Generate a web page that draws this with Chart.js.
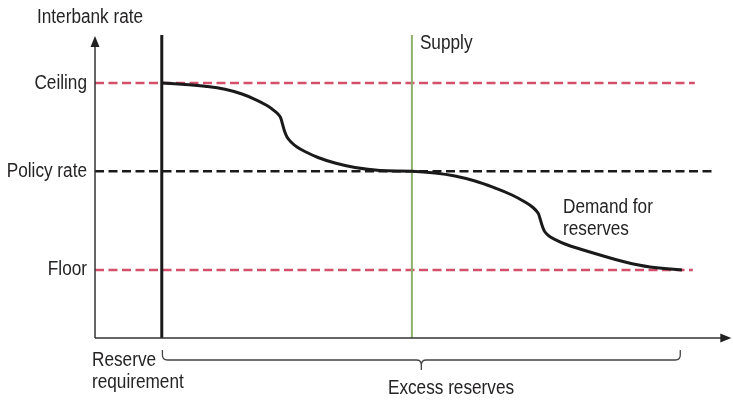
<!DOCTYPE html>
<html>
<head>
<meta charset="utf-8">
<script src="https://cdn.jsdelivr.net/npm/chart.js@4"></script>
<style>
  html, body { margin: 0; padding: 0; background: #fff; }
  #wrap { width: 733px; height: 403px; }
</style>
</head>
<body>
<div id="wrap"><canvas id="reservesChart" width="733" height="403"></canvas></div>
<script>
// Chart data (schematic units: x 0-100 reserves, y 0-100 rate)
const levelNames = ['Ceiling', 'Policy rate', 'Floor'];
const levelValues = [85, 55.6, 22.7];
const levelEnds = [95.2, 97.9, 94.9];

const reserveRequirement = 10.6;
const supplyLevel = 50.3;

const demandX = [10.63, 14.29, 17.46, 20.63, 23.33, 25.56, 27.30, 28.57, 29.37, 29.76,
                 30.08, 30.48, 31.11, 32.06, 33.33, 35.40, 38.10, 41.27, 45.24, 50.32,
                 53.97, 57.14, 60.32, 63.49, 66.19, 68.25, 69.52, 70.32, 70.71, 71.03,
                 71.43, 72.06, 73.02, 74.60, 76.98, 80.16, 84.13, 88.10, 93.17];
const demandY = [85.0, 84.5, 83.9, 82.9, 81.33, 79.4, 77.47, 75.57, 73.8, 71.33,
                 69.0, 67.0, 65.33, 63.67, 62.17, 60.17, 58.33, 56.83, 55.83, 55.6,
                 55.0, 54.0, 52.33, 50.0, 47.67, 45.33, 43.5, 41.67, 39.33, 37.17,
                 35.33, 34.0, 32.83, 31.33, 29.67, 27.67, 25.33, 23.67, 22.67];

const excessStart = 10.7;
const excessEnd = 92.9;

const FONT = "20px 'Liberation Sans', Arial, sans-serif";
const SQUEEZE = 0.86;
const TEXT = '#252323';
const RED = '#d4506a';

function hLine(y, end) {
    return [{ x: 0, y: y }, { x: end, y: y }];
}

// condensed-looking text
function label(ctx, text, x, y, align, base) {
    ctx.save();
    ctx.translate(x, y);
    ctx.scale(SQUEEZE, 1);
    ctx.textAlign = align;
    ctx.textBaseline = base;
    ctx.fillText(text, 0, 0);
    ctx.restore();
}

// Axes, arrows, brace and labels
const diagramPlugin = {
    id: 'diagram',
    afterDatasetsDraw(chart) {
        const ctx = chart.ctx;
        const xs = chart.scales.x;
        const ys = chart.scales.y;
        const x0 = xs.getPixelForValue(0);
        const y0 = ys.getPixelForValue(0);

        ctx.save();
        ctx.strokeStyle = '#333';
        ctx.fillStyle = '#222';
        ctx.lineWidth = 1.5;

        // y axis
        const yTip = ys.getPixelForValue(100.7);
        ctx.beginPath();
        ctx.moveTo(x0, y0);
        ctx.lineTo(x0, yTip + 6);
        ctx.stroke();
        ctx.beginPath();
        ctx.moveTo(x0, yTip);
        ctx.lineTo(x0 - 4.5, yTip + 11);
        ctx.lineTo(x0 + 4.5, yTip + 11);
        ctx.closePath();
        ctx.fill();

        // x axis
        const xTip = xs.getPixelForValue(101);
        ctx.beginPath();
        ctx.moveTo(x0, y0);
        ctx.lineTo(xTip - 6, y0);
        ctx.stroke();
        ctx.beginPath();
        ctx.moveTo(xTip, y0);
        ctx.lineTo(xTip - 11, y0 - 4.5);
        ctx.lineTo(xTip - 11, y0 + 4.5);
        ctx.closePath();
        ctx.fill();

        // brace under excess reserves
        const bl = xs.getPixelForValue(excessStart);
        const br = xs.getPixelForValue(excessEnd);
        const bm = (bl + br) / 2;
        const bt = y0 + 12, bb = y0 + 22, bc = y0 + 32;
        ctx.lineWidth = 1.3;
        ctx.strokeStyle = '#444';
        ctx.beginPath();
        ctx.moveTo(bl, bt);
        ctx.lineTo(bl, bb - 5);
        ctx.quadraticCurveTo(bl, bb, bl + 5, bb);
        ctx.lineTo(bm - 5, bb);
        ctx.quadraticCurveTo(bm, bb, bm, bb + 5);
        ctx.lineTo(bm, bc);
        ctx.moveTo(bm, bb + 5);
        ctx.quadraticCurveTo(bm, bb, bm + 5, bb);
        ctx.lineTo(br - 5, bb);
        ctx.quadraticCurveTo(br, bb, br, bb - 5);
        ctx.lineTo(br, bt);
        ctx.stroke();

        // text
        ctx.fillStyle = TEXT;
        ctx.font = FONT;
        levelNames.forEach((name, i) => {
            label(ctx, name, x0 - 8, ys.getPixelForValue(levelValues[i]), 'right', 'middle');
        });
        label(ctx, 'Interbank rate', 37, 23, 'left', 'alphabetic');
        label(ctx, 'Supply', xs.getPixelForValue(supplyLevel) + 8, 49, 'left', 'alphabetic');
        label(ctx, 'Demand for', 563, 213, 'left', 'alphabetic');
        label(ctx, 'reserves', 563, 235, 'left', 'alphabetic');
        label(ctx, 'Reserve', 92, 366, 'left', 'alphabetic');
        label(ctx, 'requirement', 92, 388, 'left', 'alphabetic');
        label(ctx, 'Excess reserves', 451, 394, 'center', 'alphabetic');
        ctx.restore();
    }
};

const ctx = document.getElementById('reservesChart').getContext('2d');
new Chart(ctx, {
    type: 'line',
    data: {
        datasets: [{
            label: 'Demand for reserves',
            data: demandX.map((x, i) => ({ x: x, y: demandY[i] })),
            borderColor: '#1a1a1a',
            borderWidth: 3,
            tension: 0.4,
            pointRadius: 0
        }, {
            label: 'Reserve requirement',
            data: [{ x: reserveRequirement, y: 0 }, { x: reserveRequirement, y: 101 }],
            borderColor: '#1a1a1a',
            borderWidth: 3,
            pointRadius: 0
        }, {
            label: 'Supply',
            data: [{ x: supplyLevel, y: 0 }, { x: supplyLevel, y: 101 }],
            borderColor: '#8db06c',
            borderWidth: 2,
            pointRadius: 0
        }, {
            label: levelNames[0],
            data: hLine(levelValues[0], levelEnds[0]),
            borderColor: RED,
            borderWidth: 2.5,
            borderDash: [9, 4.5],
            pointRadius: 0
        }, {
            label: levelNames[1],
            data: hLine(levelValues[1], levelEnds[1]),
            borderColor: '#1a1a1a',
            borderWidth: 2.5,
            borderDash: [9, 4.5],
            pointRadius: 0
        }, {
            label: levelNames[2],
            data: hLine(levelValues[2], levelEnds[2]),
            borderColor: RED,
            borderWidth: 2.5,
            borderDash: [9, 4.5],
            pointRadius: 0
        }]
    },
    options: {
        responsive: false,
        animation: false,
        clip: false,
        layout: {
            padding: { left: 95, right: 8, top: 38, bottom: 65 }
        },
        scales: {
            x: { type: 'linear', min: 0, max: 100, display: false },
            y: { type: 'linear', min: 0, max: 100, display: false }
        },
        plugins: {
            legend: { display: false },
            tooltip: { enabled: false }
        }
    },
    plugins: [diagramPlugin]
});
</script>
</body>
</html>
